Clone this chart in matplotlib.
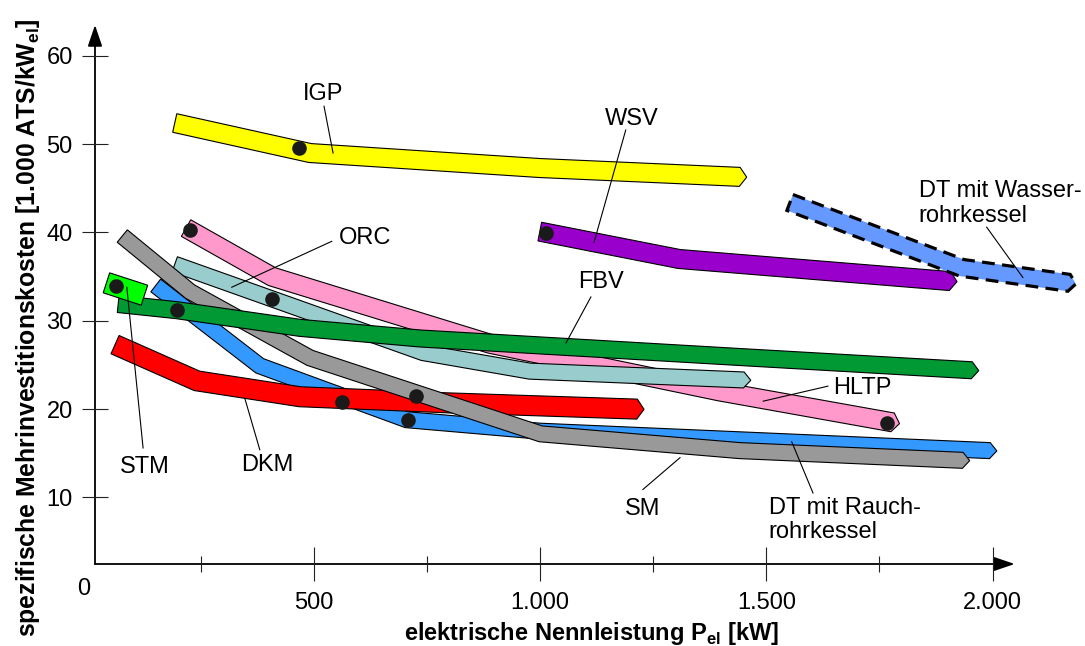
import numpy as np
import matplotlib
matplotlib.use("Agg")
import matplotlib.pyplot as plt
from matplotlib.patches import Polygon

plt.rcParams["font.family"] = ["Liberation Sans", "DejaVu Sans"]
plt.rcParams["mathtext.fontset"] = "custom"
plt.rcParams["mathtext.rm"] = "Liberation Sans"
plt.rcParams["mathtext.bf"] = "Liberation Sans:bold"

# centre lines of the cost bands: P_el [kW] / spec. costs [1.000 ATS/kWel]
igp_x = [192, 491, 999, 1441]
igp_y = [52.4, 49.0, 47.3, 46.3]
wsv_x = [999, 1307, 1906]
wsv_y = [40.1, 37.0, 34.5]
dtw_x = [1552, 1932, 2169]
dtw_y = [43.4, 36.0, 34.3]
hltp_x = [217, 407, 889, 1397, 1779]
hltp_y = [40.5, 35.0, 27.4, 22.0, 18.5]
orc_x = [192, 741, 977, 1450]
orc_y = [36.4, 26.4, 24.3, 23.3]
dtr_x = [150, 380, 705, 999, 1994]
dtr_y = [34.0, 24.9, 18.8, 17.5, 15.3]
dkm_x = [60, 241, 469, 800, 1214]
dkm_y = [27.3, 23.2, 21.4, 20.7, 20.0]
sm_x = [76, 226, 491, 1001, 1441, 1934]
sm_y = [39.6, 33.3, 25.8, 17.2, 15.3, 14.2]
fbv_x = [67, 197, 469, 734, 1441, 1954]
fbv_y = [31.9, 31.2, 29.2, 28.0, 25.9, 24.4]
stm_x = [41, 125]
stm_y = [34.3, 32.9]

# single plants (black dots)
dot_x = [62, 197, 226, 467, 407, 562, 725, 708, 1012, 1766]
dot_y = [33.9, 31.2, 40.3, 49.6, 32.5, 20.8, 21.5, 18.8, 39.9, 18.4]

x_major = [500, 1000, 1500, 2000]
x_major_labels = ["500", "1.000", "1.500", "2.000"]
x_minor = [250, 750, 1250, 1750]
y_major = [10, 20, 30, 40, 50, 60]

fig = plt.figure(figsize=(10.85, 6.46), dpi=100)
ax = fig.add_axes([95 / 1085, 82 / 646, 987 / 1085, 549 / 646])
ax.set_xlim(15.7, 2197.7)
ax.set_ylim(2.46, 64.63)
for s in ax.spines.values():
    s.set_visible(False)


def band(xs, ys, width, color, tip=7, ls="-", lw=0.8, z=2):
    # thick band around a centre line, built in pixel space
    P = ax.transData.transform(np.column_stack([xs, ys]))
    d = np.diff(P, axis=0)
    d /= np.linalg.norm(d, axis=1)[:, None]
    nrm = np.column_stack([-d[:, 1], d[:, 0]])
    offs = []
    for i in range(len(P)):
        if i == 0:
            v = nrm[0]
        elif i == len(P) - 1:
            v = nrm[-1]
        else:
            m = nrm[i - 1] + nrm[i]
            m /= np.linalg.norm(m)
            v = m / np.dot(m, nrm[i])
        offs.append(v)
    offs = np.array(offs) * width / 2
    pts = [P + offs]
    if tip:
        pts.append([P[-1] + d[-1] * tip])
    pts.append((P - offs)[::-1])
    poly = ax.transData.inverted().transform(np.vstack(pts))
    ax.add_patch(Polygon(poly, closed=True, fc=color, ec="black", lw=lw,
                         ls=ls, joinstyle="miter", zorder=z))


band(hltp_x, hltp_y, 19, "#ff99cc", z=2)
band(orc_x, orc_y, 16, "#99cccc", z=3)
band(dtr_x, dtr_y, 16, "#3399ff", z=4)
band(dkm_x, dkm_y, 20, "#ff0000", z=5)
band(sm_x, sm_y, 16, "#999999", z=6)
band(fbv_x, fbv_y, 17, "#009933", z=7)
band(stm_x, stm_y, 21, "#00ff00", tip=0, z=8)
band(igp_x, igp_y, 19, "#ffff00", z=8)
band(wsv_x, wsv_y, 19, "#9900cc", z=8)
band(dtw_x, dtw_y, 17, "#6699ff", ls=(0, (4, 2.3)), lw=2.3, z=8)

ax.plot(dot_x, dot_y, "o", color="#1a1a1a", ms=9.5, zorder=10)

# labels with leader lines
labels = ["IGP", "WSV", "DT mit Wasser-\nrohrkessel", "ORC", "FBV", "HLTP",
          "STM", "DKM", "SM", "DT mit Rauch-\nrohrkessel"]
label_pos = [(520, 55.7), (1203, 52.8), (1837, 43.3), (612, 39.4), (1134, 34.4),
             (1713, 22.4), (126, 13.4), (396, 13.7), (1227, 8.7), (1505, 7.45)]
label_ha = ["center", "center", "left", "center", "center", "center",
            "center", "center", "center", "left"]
leaders = [((522, 54.3), (542, 49.0)),
           ((1189, 51.6), (1119, 38.9)),
           ((1987, 40.6), (2067, 34.9)),
           ((539, 39.0), (318, 33.8)),
           ((1112, 32.7), (1057, 27.5)),
           ((1636, 22.6), (1493, 20.9)),
           ((122, 15.6), (86, 33.8)),
           ((380, 15.4), (347, 21.2)),
           ((1227, 10.9), (1309, 14.5)),
           ((1603, 10.5), (1556, 16.3))]

for txt, (tx, ty), ha, (a, b) in zip(labels, label_pos, label_ha, leaders):
    ax.text(tx, ty, txt, fontsize=17, ha=ha, va="center", linespacing=1.14,
            zorder=12)
    ax.plot([a[0], b[0]], [a[1], b[1]], color="black", lw=0.8, zorder=11)

# axes with arrows
ax.annotate("", xy=(2049, 2.46), xytext=(15.7, 2.46),
            arrowprops=dict(arrowstyle="-|>,head_length=0.65,head_width=0.22",
                            mutation_scale=20, lw=1.3, color="black",
                            shrinkA=0, shrinkB=0), zorder=1)
ax.annotate("", xy=(15.7, 63.5), xytext=(15.7, 2.46),
            arrowprops=dict(arrowstyle="-|>,head_length=0.65,head_width=0.22",
                            mutation_scale=20, lw=1.3, color="black",
                            shrinkA=0, shrinkB=0), zorder=1)

ax.set_xticks(x_major)
ax.set_xticklabels(x_major_labels)
ax.set_xticks(x_minor, minor=True)
ax.set_yticks(y_major)
ax.tick_params(axis="x", which="major", direction="inout", length=25,
               width=0.8, color="#222222", labelsize=17, pad=7.5)
ax.tick_params(axis="x", which="minor", direction="inout", length=12,
               width=0.8, color="#222222")
ax.tick_params(axis="y", which="major", direction="inout", length=19,
               width=0.8, color="#222222", labelsize=17, pad=6.5)
ax.text(-8.6, -0.4, "0", fontsize=17, ha="center", va="center")

fig.text(592 / 1085, 6 / 646, r"elektrische Nennleistung P$_{\mathbf{el}}$ [kW]",
         fontsize=17, fontweight="bold", ha="center", va="baseline")
fig.text(28 / 1085, 1 - 328 / 646,
         r"spezifische Mehrinvestitionskosten [1.000 ATS/kW$_{\mathbf{el}}$]",
         fontsize=17.8, fontweight="bold", rotation=90, ha="center", va="center")

fig.savefig("out.png", dpi=100)
